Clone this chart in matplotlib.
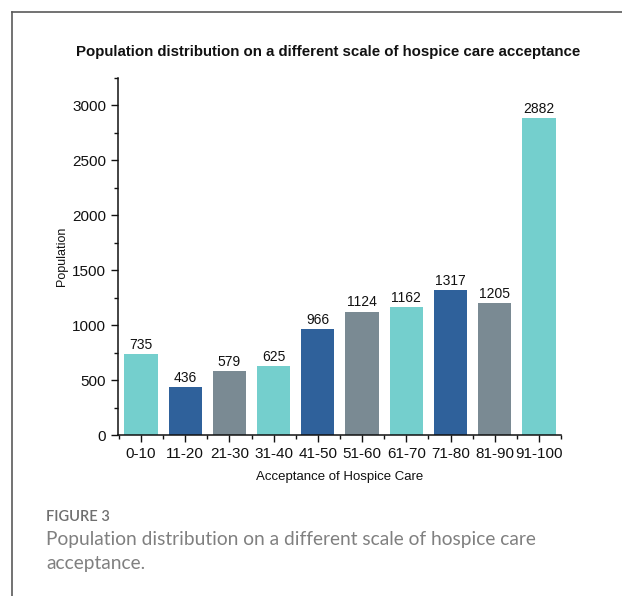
import matplotlib
matplotlib.use("Agg")
import matplotlib.pyplot as plt
from matplotlib.ticker import MultipleLocator, FixedLocator
from matplotlib.lines import Line2D

# Data
categories = ["0-10", "11-20", "21-30", "31-40", "41-50", "51-60",
              "61-70", "71-80", "81-90", "91-100"]
population = [735, 436, 579, 625, 966, 1124, 1162, 1317, 1205, 2882]

teal = "#74CFCD"
navy = "#2F619B"
slate = "#7A8A93"
bar_colors = [teal, navy, slate] * 3 + [teal]

plt.rcParams["font.family"] = ["Liberation Sans", "DejaVu Sans"]

fig = plt.figure(figsize=(6.22, 5.96), dpi=100)
ax = fig.add_axes([0.1897, 0.2701, 0.7123, 0.5990])

x = list(range(len(categories)))
bars = ax.bar(x, population, width=0.75, color=bar_colors, edgecolor="none")

for xi, v in zip(x, population):
    ax.annotate(f"{v}", xy=(xi, v), xytext=(0, 1.5), textcoords="offset points",
                ha="center", va="bottom", fontsize=10, color="#111111")

ax.set_xlim(-0.52, 9.5)
ax.set_ylim(0, 3250)
ax.set_xticks(x)
ax.set_xticklabels(categories, fontsize=11, color="#111111")
ax.xaxis.set_minor_locator(FixedLocator([i + 0.5 for i in range(-1, 10)]))
ax.yaxis.set_major_locator(MultipleLocator(500))
ax.yaxis.set_minor_locator(MultipleLocator(250))
ax.tick_params(axis="y", labelsize=11, labelcolor="#111111")
ax.tick_params(which="major", direction="out", length=5, width=1, color="#111111")
ax.tick_params(which="minor", direction="out", length=3, width=1, color="#111111")

for side in ("top", "right"):
    ax.spines[side].set_visible(False)
for side in ("left", "bottom"):
    ax.spines[side].set_linewidth(1.1)
    ax.spines[side].set_color("#111111")

ax.set_ylabel("Population", fontsize=9, color="#111111", labelpad=3)
ax.set_xlabel("Acceptance of Hospice Care", fontsize=9.5, color="#111111", labelpad=7)

fig.text(0.528, 0.912, "Population distribution on a different scale of hospice care acceptance",
         ha="center", va="center", fontsize=10.8, fontweight="bold", color="#111111")

# Panel frame
W, H = 622, 596
fig.add_artist(Line2D([12 / W, 12 / W], [0, 1 - 12 / H], transform=fig.transFigure,
                      color="#5a5a5a", linewidth=1.2))
fig.add_artist(Line2D([12 / W, 1], [1 - 12 / H, 1 - 12 / H], transform=fig.transFigure,
                      color="#5a5a5a", linewidth=1.2))

# Caption
cap_font = ["Lato", "DejaVu Sans"]
fig.text(46 / W, 1 - 517 / H, "FIGURE 3", ha="left", va="center",
         fontsize=10.5, fontweight="semibold", color="#6f6f6f", family=cap_font)
fig.text(46 / W, 1 - 540 / H, "Population distribution on a different scale of hospice care",
         ha="left", va="center", fontsize=13.8, fontweight="normal", color="#808080",
         family=cap_font)
fig.text(46 / W, 1 - 564 / H, "acceptance.", ha="left", va="center",
         fontsize=13.8, fontweight="normal", color="#808080", family=cap_font)

fig.savefig("out.png", dpi=100)
